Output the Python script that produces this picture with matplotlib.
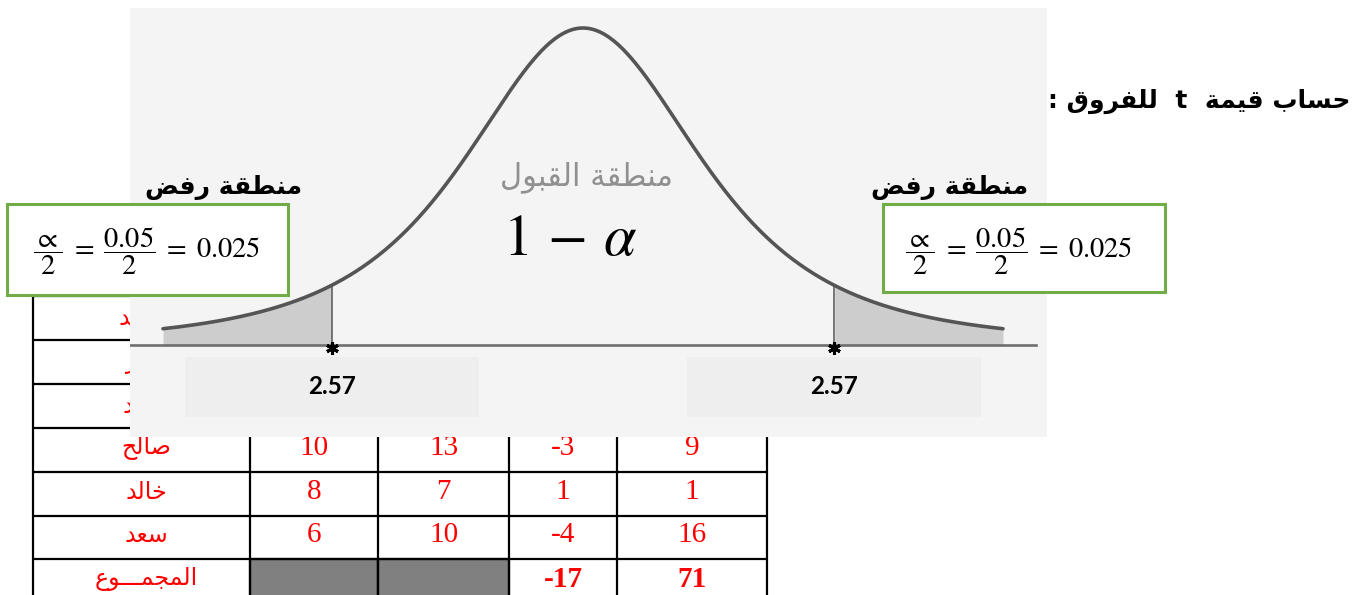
import numpy as np
import matplotlib
matplotlib.use("Agg")
import matplotlib.pyplot as plt
from matplotlib.patches import Rectangle

plt.rcParams['mathtext.fontset'] = 'stix'

# --- table values ---
hidden_names = ["محمد", "عمر", "أحمد"]
names = ["صالح", "خالد", "سعد"]
first = [10, 8, 6]
second = [13, 7, 10]
diff = [-3, 1, -4]
diff_sq = [9, 1, 16]
total_label = "المجمـــوع"
total_diff = -17
total_sq = 71

# --- t distribution sketch ---
t_crit = 2.57
df = 2.5
t_scale = 1.288
tail_end = 4.3
alpha = 0.05

title = "حساب قيمة  t  للفروق :"
accept_label = "منطقة القبول"
reject_label = "منطقة رفض"

# Arabic letters -> (isolated, final, initial, medial) presentation forms
FORMS = {
    'ا': ('\uFE8D', '\uFE8E', None, None),
    'أ': ('\uFE83', '\uFE84', None, None),
    'ب': ('\uFE8F', '\uFE90', '\uFE91', '\uFE92'),
    'ة': ('\uFE93', '\uFE94', None, None),
    'ج': ('\uFE9D', '\uFE9E', '\uFE9F', '\uFEA0'),
    'ح': ('\uFEA1', '\uFEA2', '\uFEA3', '\uFEA4'),
    'خ': ('\uFEA5', '\uFEA6', '\uFEA7', '\uFEA8'),
    'د': ('\uFEA9', '\uFEAA', None, None),
    'ر': ('\uFEAD', '\uFEAE', None, None),
    'س': ('\uFEB1', '\uFEB2', '\uFEB3', '\uFEB4'),
    'ص': ('\uFEB9', '\uFEBA', '\uFEBB', '\uFEBC'),
    'ض': ('\uFEBD', '\uFEBE', '\uFEBF', '\uFEC0'),
    'ط': ('\uFEC1', '\uFEC2', '\uFEC3', '\uFEC4'),
    'ع': ('\uFEC9', '\uFECA', '\uFECB', '\uFECC'),
    'ف': ('\uFED1', '\uFED2', '\uFED3', '\uFED4'),
    'ق': ('\uFED5', '\uFED6', '\uFED7', '\uFED8'),
    'ل': ('\uFEDD', '\uFEDE', '\uFEDF', '\uFEE0'),
    'م': ('\uFEE1', '\uFEE2', '\uFEE3', '\uFEE4'),
    'ن': ('\uFEE5', '\uFEE6', '\uFEE7', '\uFEE8'),
    'و': ('\uFEED', '\uFEEE', None, None),
    'ي': ('\uFEF1', '\uFEF2', '\uFEF3', '\uFEF4'),
}
TATWEEL = 'ـ'


def shape(text):
    # join letters and flip to visual (left-to-right) order
    out = []
    for i, ch in enumerate(text):
        if ch not in FORMS:
            out.append(ch)
            continue
        prev = text[i - 1] if i > 0 else ''
        nxt = text[i + 1] if i < len(text) - 1 else ''
        iso, fin, ini, med = FORMS[ch]
        joins_prev = prev == TATWEEL or (prev in FORMS and FORMS[prev][2] is not None)
        joins_next = ini is not None and (nxt == TATWEEL or nxt in FORMS)
        if joins_prev and joins_next:
            out.append(med)
        elif joins_prev:
            out.append(fin)
        elif joins_next:
            out.append(ini)
        else:
            out.append(iso)
    return ''.join(reversed(out))


def t_density(t):
    return (1 + (t / t_scale) ** 2 / df) ** (-(df + 1) / 2)


W, H = 1363, 595
fig = plt.figure(figsize=(W / 100, H / 100), dpi=100)


def px_rect(x0, y0, x1, y1):
    return [x0 / W, 1 - y1 / H, (x1 - x0) / W, (y1 - y0) / H]


# background layer: the table
ax = fig.add_axes([0, 0, 1, 1])
ax.set_xlim(0, W)
ax.set_ylim(H, 0)
ax.axis('off')

col_edges = [33, 250, 378, 509, 617, 767]
row_top = 296
row_h = 43.9
n_rows = len(hidden_names) + len(names) + 1
row_edges = [row_top + i * row_h for i in range(n_rows + 1)]
ax.hlines(row_edges, col_edges[0], col_edges[-1], color='black', lw=1.6)
ax.vlines(col_edges, row_edges[0], row_edges[-1], color='black', lw=1.6)

name_x = 146
col_mid = [(col_edges[i] + col_edges[i + 1]) / 2 for i in range(1, 5)]
arabic = dict(family=['DejaVu Sans'], color='red', ha='center', va='center', fontsize=17)
serif = dict(family='Liberation Serif', color='red', ha='center', va='center', fontsize=21)

for i, nm in enumerate(hidden_names):
    yc = row_edges[i] + row_h / 2
    ax.text(name_x, yc, shape(nm), **arabic)

start = len(hidden_names)
for j, nm in enumerate(names):
    yc = row_edges[start + j] + row_h / 2 - 2
    ax.text(name_x, yc, shape(nm), **arabic)
    for x, v in zip(col_mid, [first[j], second[j], diff[j], diff_sq[j]]):
        ax.text(x, yc, str(v), **serif)

tot_i = start + len(names)
yc = row_edges[tot_i] + row_h / 2 - 2
for k in (1, 2):
    ax.add_patch(Rectangle((col_edges[k], row_edges[tot_i]), col_edges[k + 1] - col_edges[k], row_h,
                           facecolor='#808080', edgecolor='black', lw=1.6))
ax.text(name_x, yc, shape(total_label), **arabic)
ax.text(col_mid[2], yc, str(total_diff), fontweight='bold', **serif)
ax.text(col_mid[3], yc, str(total_sq), fontweight='bold', **serif)

# middle layer: the distribution picture
px_per_t = 97.67
px_per_h = 317.0
cx, base_y = 583, 345
pic = fig.add_axes(px_rect(130, 8, 1047, 437), zorder=2)
pic.set_facecolor('#f4f4f4')
pic.set_xlim((130 - cx) / px_per_t, (1047 - cx) / px_per_t)
pic.set_ylim((base_y - 437) / px_per_h, (base_y - 8) / px_per_h)
pic.set_xticks([])
pic.set_yticks([])
for s in pic.spines.values():
    s.set_visible(False)

xs = np.linspace(-tail_end, tail_end, 600)
dens = t_density(xs)
pic.plot(xs, dens, color='#555555', lw=2.6, solid_capstyle='round', zorder=4)

left = xs <= -t_crit
right = xs >= t_crit
pic.fill_between(xs[left], 0, dens[left], color='#cdcdcd', lw=0, zorder=2)
pic.fill_between(xs[right], 0, dens[right], color='#cdcdcd', lw=0, zorder=2)

pic.axhline(0, xmax=(1036 - 130) / 917, color='#6e6e6e', lw=1.9, zorder=3)
for c in (-t_crit, t_crit):
    pic.plot([c, c], [0, t_density(c)], color='#555555', lw=1.1, zorder=3)
    pic.plot(c, -0.01, marker=(6, 2, 0), color='black', ms=9, mew=2.2, zorder=5)
    pic.add_patch(Rectangle((c - 1.51, -0.226), 3.02, 0.188, facecolor='#eeeeee',
                            edgecolor='none', zorder=1))
    pic.text(c, -0.132, f"{t_crit:.2f}", family='Lato', fontweight='bold', fontsize=17.5,
             ha='center', va='center', zorder=6)

pic.text(0.04, 0.53, shape(accept_label), family=['DejaVu Sans'], color='#909090',
         fontsize=22, ha='center', va='center', zorder=6)
pic.text(-0.13, 0.335, r"$1\,-\,\alpha$", fontsize=42, ha='center', va='center', zorder=6)

# top layer: rejection labels, alpha boxes, title
top = fig.add_axes([0, 0, 1, 1], zorder=5)
top.set_xlim(0, W)
top.set_ylim(H, 0)
top.axis('off')

for x in (224, 950):
    top.text(x, 187, shape(reject_label), family=['DejaVu Sans'], fontweight='bold',
             fontsize=18, ha='center', va='center', zorder=1)

half = r"$\dfrac{\propto}{2}\;=\;\dfrac{%s}{2}\;=\;%s$" % (f"{alpha:.2f}", f"{alpha / 2:.3f}")
for (x0, y0, w, h), tx in [((7, 204, 281, 91), 147), ((883, 204, 282, 88), 1019)]:
    top.add_patch(Rectangle((x0, y0), w, h, facecolor='white', edgecolor='#70ad47', lw=2.2, zorder=2))
    top.text(tx, 251, half, fontsize=20.5, ha='center', va='center', zorder=3)

top.text(1350, 101, shape(title), family=['DejaVu Sans'], fontweight='bold', fontsize=18,
         ha='right', va='center')

fig.savefig("out.png", dpi=100, facecolor='white')
